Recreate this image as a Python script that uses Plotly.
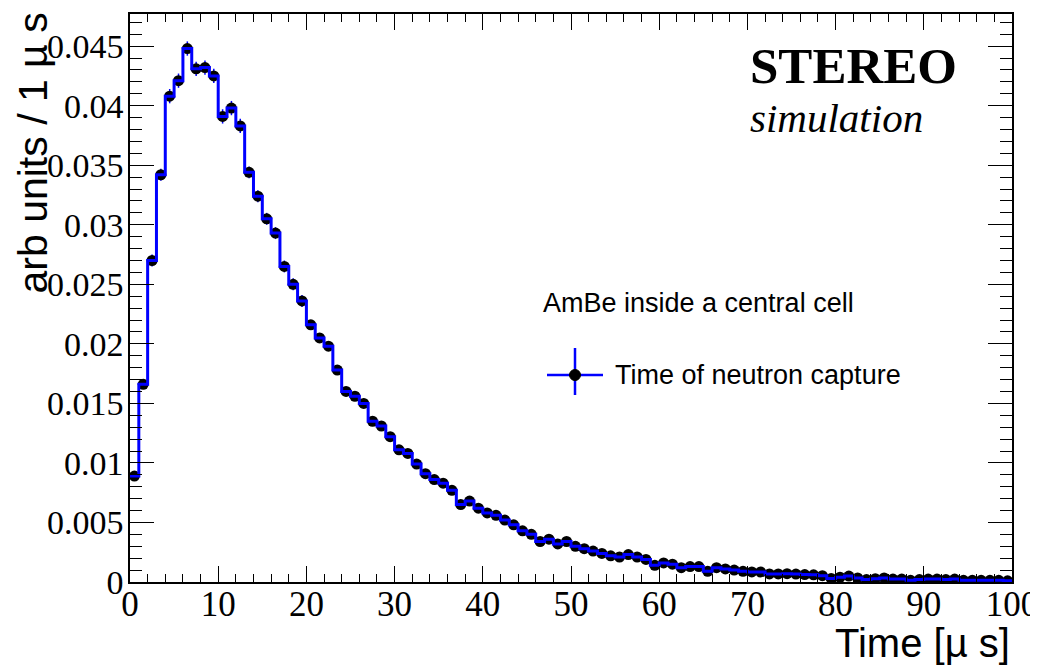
import plotly.graph_objects as go

# ---- data ----
bin_edges_start = 0.0
bin_width = 1.0
n_bins = 100

counts = [
    0.0089, 0.0166, 0.0270, 0.0342, 0.0408, 0.0421, 0.0448, 0.0431, 0.0432, 0.0425,
    0.0391, 0.0398, 0.0383, 0.0344, 0.0324, 0.0305, 0.0293, 0.0265, 0.0250, 0.0236,
    0.0216, 0.0205, 0.0198, 0.0178, 0.0160, 0.0156, 0.0150, 0.0135, 0.0131, 0.0122,
    0.0111, 0.0108, 0.0099, 0.0091, 0.0086, 0.0083, 0.0077, 0.0065, 0.0068, 0.0062,
    0.0058, 0.0056, 0.0052, 0.0048, 0.0043, 0.0040, 0.0034, 0.0036, 0.0032, 0.0034,
    0.0030, 0.0028, 0.0026, 0.0024, 0.0022, 0.0021, 0.0023, 0.0021, 0.0019, 0.0014,
    0.0016, 0.0015, 0.0012, 0.0013, 0.0013, 0.0009, 0.0012, 0.0011, 0.0010, 0.0009,
    0.00085, 0.00084, 0.00068, 0.00068, 0.0007, 0.00067, 0.00062, 0.0006, 0.00053, 0.0003,
    0.0004, 0.0005, 0.00034, 0.0002, 0.00028, 0.00034, 0.00025, 0.00025, 0.00014, 0.0002,
    0.00025, 0.00025, 0.0002, 0.00025, 0.00014, 0.00014, 0.00014, 0.00014, 0.00014, 0.0001,
]

errors = [
    0.0003, 0.0004, 0.0005, 0.0005, 0.0006, 0.0006, 0.0006, 0.0006, 0.0006, 0.0006,
    0.0006, 0.0006, 0.0006, 0.0005, 0.0005, 0.0005, 0.0005, 0.0005, 0.0005, 0.0005,
    0.0004, 0.0004, 0.0004, 0.0004, 0.0004, 0.0004, 0.0004, 0.0004, 0.0004, 0.0003,
    0.0003, 0.0003, 0.0003, 0.0003, 0.0003, 0.0003, 0.0003, 0.0003, 0.0003, 0.0003,
    0.0002, 0.0002, 0.0002, 0.0002, 0.0002, 0.0002, 0.0002, 0.0002, 0.0002, 0.0002,
    0.0002, 0.0002, 0.0002, 0.0002, 0.0002, 0.0002, 0.0002, 0.0002, 0.0002, 0.0001,
    0.0001, 0.0001, 0.0001, 0.0001, 0.0001, 0.0001, 0.0001, 0.0001, 0.0001, 0.0001,
    0.0001, 0.0001, 0.0001, 0.0001, 0.0001, 0.0001, 0.0001, 0.0001, 0.0001, 0.0001,
    0.0001, 0.0001, 0.0001, 0.0001, 0.0001, 0.0001, 0.0001, 0.0001, 0.0001, 0.0001,
    0.0001, 0.0001, 0.0001, 0.0001, 0.0001, 0.0001, 0.0001, 0.0001, 0.0001, 0.0001,
]

x_tick_vals = [0, 10, 20, 30, 40, 50, 60, 70, 80, 90, 100]
x_tick_text = ["0", "10", "20", "30", "40", "50", "60", "70", "80", "90", "100"]
y_tick_vals = [0, 0.005, 0.01, 0.015, 0.02, 0.025, 0.03, 0.035, 0.04, 0.045]
y_tick_text = ["0", "0.005", "0.01", "0.015", "0.02", "0.025", "0.03", "0.035", "0.04", "0.045"]

legend_header = "AmBe inside a central cell"
legend_entry = "Time of neutron capture"
x_title = "Time [µ s]"
y_title = "arb units / 1 µ s"

# ---- derived geometry ----
edges = [bin_edges_start + i * bin_width for i in range(n_bins + 1)]
centers = [bin_edges_start + (i + 0.5) * bin_width for i in range(n_bins)]
step_x = edges
step_y = counts + [counts[-1]]

BLUE = "#0000ff"
SERIF = "Liberation Serif, Times New Roman, serif"
SANS = "Liberation Sans, Arial, sans-serif"

fig = go.Figure()

# markers with error bars
fig.add_trace(go.Scatter(
    x=centers, y=counts, mode="markers",
    marker=dict(color="black", size=11, symbol="circle"),
    error_y=dict(type="data", array=errors, visible=True, color=BLUE, thickness=1.5, width=0),
    showlegend=False, hoverinfo="skip",
))

# histogram step line
fig.add_trace(go.Scatter(
    x=step_x, y=step_y, mode="lines", line=dict(color=BLUE, width=3, shape="hv"),
    showlegend=False, hoverinfo="skip",
))

# the page body adds an 8 px offset; size the figure so the plot frame
# lands at page x 130..1012 and page y 14..582
OFF = 8
W, H = 1038 - OFF, 671 - OFF
L, R, T, B = 130 - OFF, 26, 14 - OFF, 89
pw = W - L - R
ph = H - T - B


def px(xp):
    # page pixel x -> paper
    return (xp - OFF - L) / pw


def py(yp):
    # page pixel y -> paper
    return (H - B - (yp - OFF)) / ph


fig.update_layout(
    width=W, height=H,
    margin=dict(l=L, r=R, t=T, b=B, autoexpand=False),
    paper_bgcolor="white", plot_bgcolor="white",
    showlegend=False,
    xaxis=dict(
        range=[0, 100], showgrid=False, zeroline=False, automargin=False,
        showline=True, linecolor="black", linewidth=1.5, mirror="allticks",
        ticks="inside", ticklen=16, tickwidth=1.2, tickcolor="black",
        tickvals=x_tick_vals, ticktext=x_tick_text,
        tickfont=dict(family=SERIF, size=35, color="black"),
        minor=dict(dtick=2, ticks="inside", ticklen=8, tickwidth=1.2, tickcolor="black"),
        ticklabelstandoff=-10, ticklabeloverflow="allow",
    ),
    yaxis=dict(
        range=[0, 0.0477], showgrid=False, zeroline=False, automargin=False,
        showline=True, linecolor="black", linewidth=1.5, mirror="allticks",
        ticks="inside", ticklen=24, tickwidth=1.2, tickcolor="black",
        tickvals=y_tick_vals, ticktext=y_tick_text,
        tickfont=dict(family=SERIF, size=34, color="black"),
        minor=dict(dtick=0.001, ticks="inside", ticklen=12, tickwidth=1.2, tickcolor="black"),
        ticklabelstandoff=-2, ticklabeloverflow="allow",
    ),
)

annotations = [
    dict(text=y_title, textangle=-90, x=px(32), y=py(11), xref="paper", yref="paper",
         xanchor="center", yanchor="top", showarrow=False,
         font=dict(family=SANS, size=41, color="black")),
    dict(text=x_title, x=1.0, y=py(643), xref="paper", yref="paper",
         xanchor="right", yanchor="middle", showarrow=False,
         font=dict(family=SANS, size=40, color="black")),
    dict(text="<b>STEREO</b>", x=px(748), y=py(66), xref="paper", yref="paper",
         xanchor="left", yanchor="middle", showarrow=False,
         font=dict(family=SERIF, size=51, color="black")),
    dict(text="<i>simulation</i>", x=px(748), y=py(118), xref="paper", yref="paper",
         xanchor="left", yanchor="middle", showarrow=False,
         font=dict(family=SERIF, size=41, color="black")),
    dict(text=legend_header, x=px(541), y=py(303), xref="paper", yref="paper",
         xanchor="left", yanchor="middle", showarrow=False,
         font=dict(family=SANS, size=27, color="black")),
    dict(text=legend_entry, x=px(613), y=py(375), xref="paper", yref="paper",
         xanchor="left", yanchor="middle", showarrow=False,
         font=dict(family=SANS, size=27, color="black")),
]
fig.update_layout(annotations=annotations)

shapes = [
    dict(type="line", xref="paper", yref="paper", x0=px(547), x1=px(603), y0=py(375), y1=py(375),
         line=dict(color=BLUE, width=2.5)),
    dict(type="line", xref="paper", yref="paper", x0=px(575), x1=px(575), y0=py(348), y1=py(395),
         line=dict(color=BLUE, width=2.5)),
    dict(type="circle", xref="paper", yref="paper", x0=px(569.5), x1=px(580.5), y0=py(380.5), y1=py(369.5),
         fillcolor="black", line=dict(color="black", width=1)),
]
fig.update_layout(shapes=shapes)

fig.write_html("out.html")
